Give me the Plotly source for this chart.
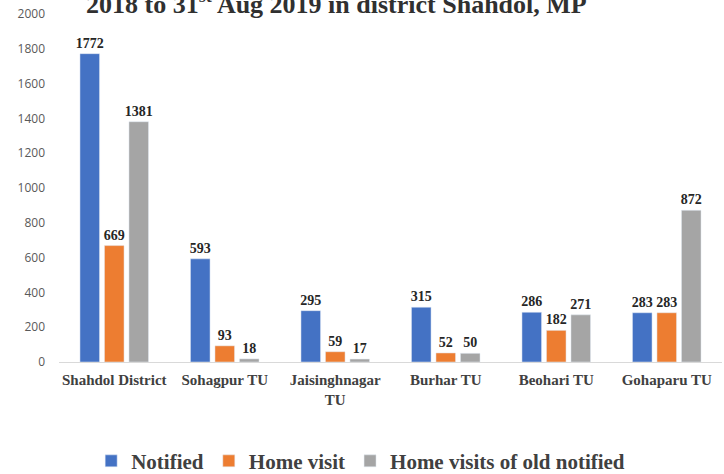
import plotly.graph_objects as go

categories = ["Shahdol District", "Sohagpur TU", "Jaisinghnagar<br>TU", "Burhar TU", "Beohari TU", "Gohaparu TU"]
notified = [1772, 593, 295, 315, 286, 283]
home_visit = [669, 93, 59, 52, 182, 283]
home_visit_old = [1381, 18, 17, 50, 271, 872]
y_ticks = [0, 200, 400, 600, 800, 1000, 1200, 1400, 1600, 1800, 2000]

serif = "Liberation Serif, Times New Roman, serif"
sans = "Open Sans, Noto Sans, sans-serif"

fig = go.Figure()
for name, vals, col in [("Notified", notified, "#4472C4"),
                        ("Home visit", home_visit, "#ED7D31"),
                        ("Home visits of old notified", home_visit_old, "#A5A5A5")]:
    fig.add_trace(go.Bar(
        x=categories, y=vals, name=name, marker_color=col,
        text=vals, textposition="outside", cliponaxis=False, constraintext="none",
        textfont=dict(family=serif, size=14, color="#262626", weight="bold"),
    ))

fig.update_layout(
    width=724, height=474,
    margin=dict(l=59, r=2, t=14, b=112),
    plot_bgcolor="white", paper_bgcolor="white",
    barmode="group", bargap=0.335, bargroupgap=0.2,
    showlegend=True,
    legend=dict(orientation="h", xref="paper", x=0.455, xanchor="center",
                yref="container", y=0.027, yanchor="middle",
                font=dict(family=serif, size=21, color="#404040", weight="bold"),
                itemwidth=30, traceorder="normal"),
    annotations=[dict(
        text="2018 to 31<sup>st</sup> Aug 2019 in district Shahdol, MP",
        xref="paper", yref="paper", x=0.418, y=1.033, xanchor="center", yanchor="middle",
        showarrow=False, font=dict(family=serif, size=26, color="#303030", weight="bold"))],
)
fig.update_yaxes(range=[0, 2000], tickvals=y_ticks, showgrid=False, zeroline=False,
                 showline=False, tickfont=dict(family=sans, size=12, color="#595959"),
                 ticks="", ticklabelstandoff=13, automargin=False)
fig.update_xaxes(showline=True, linecolor="#D9D9D9", linewidth=1, ticks="", automargin=False,
                 ticklabelstandoff=4,
                 tickfont=dict(family=serif, size=15, color="#404040", weight="bold"))

fig.write_html("out.html", config={"displayModeBar": False},
               post_script="document.body.style.margin='0';")
